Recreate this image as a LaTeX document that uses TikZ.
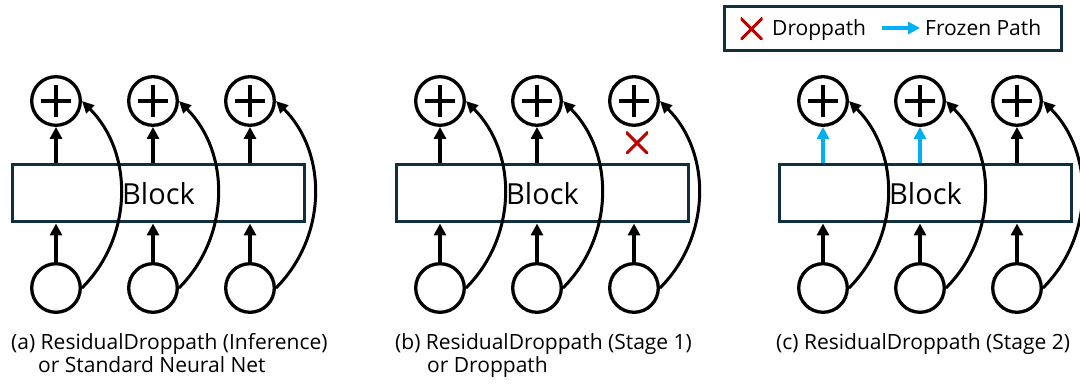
\documentclass[tikz,border=0pt]{standalone}
\usepackage{fontspec}
\setmainfont{Open Sans}
\usepackage{xcolor}
\usetikzlibrary{positioning,arrows.meta,calc}

\definecolor{blockline}{HTML}{10303F}
\definecolor{frozen}{HTML}{00B0F0}
\definecolor{dropred}{HTML}{C00000}

\tikzset{
  unit/.style={circle, draw, line width=3.3pt, minimum size=48.6pt, inner sep=0pt},
  addnode/.style={unit, path picture={
      \draw[line width=3.3pt] ([xshift=-15pt]path picture bounding box.center) -- ([xshift=15pt]path picture bounding box.center);
      \draw[line width=3.3pt] ([yshift=-16pt]path picture bounding box.center) -- ([yshift=16pt]path picture bounding box.center);}},
  dropmark/.style={minimum size=22pt, inner sep=0pt, path picture={
      \draw[dropred, line width=3pt] (path picture bounding box.south west) -- (path picture bounding box.north east);
      \draw[dropred, line width=3pt] (path picture bounding box.north west) -- (path picture bounding box.south east);}},
  blockbox/.style={draw=blockline, fill=white, line width=3pt, minimum width=292pt, minimum height=57pt,
      font=\fontsize{29}{33}\selectfont},
  keybox/.style={draw=blockline, line width=2.8pt, minimum width=337pt, minimum height=44pt},
  flow/.style={line width=3.3pt, -{Triangle[length=12pt,width=12pt]}},
  residual/.style={line width=3pt, -{Triangle[length=12pt,width=11pt]}},
  captext/.style={inner sep=0pt, anchor=base west, font=\fontsize{21}{24}\selectfont},
  keytext/.style={captext}
}

\begin{document}
\begin{tikzpicture}[x=1pt,y=1pt]
  \useasboundingbox (0,0) rectangle (1080,387);
  % three panels: block, inputs and adders
  \foreach \p/\ox in {a/0,b/384,c/767}{
    \node[blockbox] (\p-blk) at (\ox+158.5,193.5) {Block};
    \foreach \i/\cx in {1/56,2/153,3/250}{
      \node[unit] (\p-in\i) at (\ox+\cx,99) {};
      \node[addnode] (\p-add\i) at (\ox+\cx,286) {};
      \draw[flow] (\p-in\i) -- (\p-in\i |- \p-blk.south);
      \draw[residual] (\p-in\i.east) to[out=45,in=-45,looseness=1] (\p-add\i.east);
    }
  }
  % block outputs (b3 dropped, c1 and c2 frozen)
  \foreach \p/\i/\c in {a/1/black,a/2/black,a/3/black,b/1/black,b/2/black,c/1/frozen,c/2/frozen,c/3/black}
    \draw[flow, color=\c] (\p-add\i |- \p-blk.north) -- (\p-add\i);
  \node[dropmark] (b-drop) at (637,244) {};
  % legend
  \node[keybox] (key) at (893,358.5) {};
  \node[dropmark] (key-drop) at (751.5,358) {};
  \node[keytext] (key-droptext) at (772,351) {Droppath};
  \coordinate (key-from) at (882,359);
  \coordinate (key-to) at (920,359);
  \draw[flow, frozen] (key-from) -- (key-to);
  \node[keytext] (key-frozentext) at (925,351) {Frozen Path};
  % captions
  \node[captext] (cap-a) at (11,37) {(a) ResidualDroppath (Inference)};
  \node[captext] (cap-a2) at (38,14) {or Standard Neural Net};
  \node[captext] (cap-b) at (395,37) {(b) ResidualDroppath (Stage 1)};
  \node[captext] (cap-b2) at (427,14) {or Droppath};
  \node[captext] (cap-c) at (776,37) {(c) ResidualDroppath (Stage 2)};
\end{tikzpicture}
\end{document}
